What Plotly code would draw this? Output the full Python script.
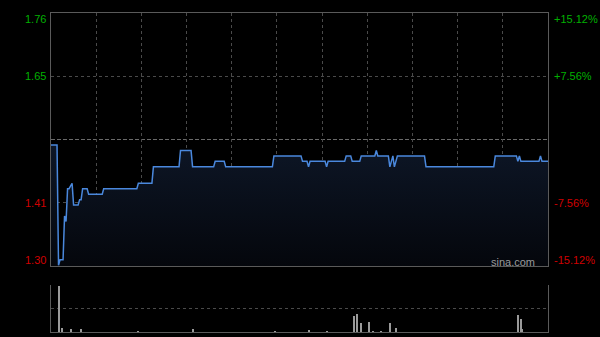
import plotly.graph_objects as go

# ---- data ----
prev_close = 1.53
minutes = [0, 4, 5, 6, 8, 9, 10, 11, 12, 14, 15, 18, 19, 20, 21, 24, 25, 34, 35, 57, 58, 67, 68,
           85, 86, 93, 94, 108, 109, 115, 116, 147, 148, 166, 167, 170, 171, 172, 182, 183, 184,
           195, 196, 199, 200, 205, 206, 215, 216, 217, 224, 225, 227, 228, 230, 248, 249, 294,
           295, 309, 310, 311, 312, 324, 325, 326, 330]
prices = [1.52, 1.52, 1.30, 1.31, 1.31, 1.39, 1.38, 1.44, 1.44, 1.45, 1.41, 1.41, 1.42, 1.42, 1.44,
          1.44, 1.43, 1.43, 1.44, 1.44, 1.45, 1.45, 1.48, 1.48, 1.51, 1.51, 1.48, 1.48, 1.49, 1.49,
          1.48, 1.48, 1.50, 1.50, 1.49, 1.49, 1.48, 1.49, 1.49, 1.48, 1.49, 1.49, 1.50, 1.50, 1.49,
          1.49, 1.50, 1.50, 1.51, 1.50, 1.50, 1.48, 1.50, 1.48, 1.50, 1.50, 1.48, 1.48, 1.50, 1.50,
          1.49, 1.50, 1.49, 1.49, 1.50, 1.49, 1.49]

vol_minutes = [5, 7, 13, 20, 58, 94, 149, 171, 183, 201, 203, 206, 211, 214, 219, 225, 229, 310, 312, 313]
volumes = [46, 4, 3, 3, 1, 3, 1, 2, 1, 15.7, 18.3, 9, 10, 1, 1, 9, 4.3, 16.7, 12.7, 3]

left_labels = ["1.76", "1.65", "1.41", "1.30"]
right_labels = ["+15.12%", "+7.56%", "-7.56%", "-15.12%"]
label_colors = ["#00b000", "#00b000", "#d00000", "#d00000"]

pct = 0.1512
y_lo, y_hi = prev_close * (1 - pct), prev_close * (1 + pct)
grid_vals = [prev_close * (1 + pct / 2), prev_close * (1 - pct / 2)]
# label anchor prices (top/bottom labels nudged inward like the original)
label_pos = [1.7508, grid_vals[0], grid_vals[1], 1.3101]

FONT = "Arial, Liberation Sans, sans-serif"
GRID = "#4a4a4a"
FRAME = "#5a5a5a"

fig = go.Figure()
fig.add_trace(go.Scatter(
    x=minutes, y=prices, mode="lines",
    line=dict(color="#4a88dd", width=1.5),
    fill="tozeroy",
    fillgradient=dict(type="vertical", start=1.29, stop=1.52,
                      colorscale=[[0, "rgb(4,6,11)"], [1, "rgb(13,22,38)"]]),
    xaxis="x", yaxis="y", hoverinfo="skip", showlegend=False))

fig.add_trace(go.Bar(
    x=vol_minutes, y=volumes, width=0.7,
    marker=dict(color="#9a9a9a", line=dict(width=0)),
    xaxis="x2", yaxis="y2", hoverinfo="skip", showlegend=False))

fig.add_shape(type="line", xref="x", yref="y", x0=0, x1=330, y0=prev_close, y1=prev_close,
              line=dict(color="#6a6a6a", width=1, dash="4px,2px"), layer="below")

for txt, pos, col in zip(left_labels, label_pos, label_colors):
    fig.add_annotation(xref="paper", yref="y", x=48 / 600, y=pos, text=txt, showarrow=False,
                       xanchor="right", yanchor="middle",
                       font=dict(family=FONT, size=11, color=col))
for txt, pos, col in zip(right_labels, label_pos, label_colors):
    fig.add_annotation(xref="paper", yref="y", x=552 / 600, y=pos, text=txt, showarrow=False,
                       xanchor="left", yanchor="middle",
                       font=dict(family=FONT, size=11, color=col))

fig.add_annotation(xref="paper", yref="paper", x=537 / 600, y=(337 - 262) / 337, text="sina.com",
                   showarrow=False, xanchor="right", yanchor="middle",
                   font=dict(family=FONT, size=11, color="#9a9a9a"))

xdom = [51 / 600, 548 / 600]
fig.update_layout(
    width=600, height=337,
    margin=dict(l=0, r=0, t=0, b=0),
    paper_bgcolor="black", plot_bgcolor="black",
    bargap=0,
    xaxis=dict(domain=xdom, range=[0, 330], tickvals=list(range(30, 330, 30)),
               showticklabels=False, ticks="", showgrid=True, gridcolor=GRID, griddash="dot",
               gridwidth=1, showline=True, linecolor=FRAME, mirror=True, zeroline=False,
               anchor="y"),
    yaxis=dict(domain=[(337 - 266) / 337, (337 - 13) / 337], range=[y_lo, y_hi],
               tickvals=grid_vals, showticklabels=False, ticks="", showgrid=True,
               gridcolor=GRID, griddash="dot", showline=True, linecolor=FRAME, mirror=True,
               zeroline=False, anchor="x"),
    xaxis2=dict(domain=xdom, range=[0, 330], showticklabels=False, ticks="", showgrid=False,
                showline=True, linecolor=FRAME, mirror=False, zeroline=False, anchor="y2"),
    yaxis2=dict(domain=[(337 - 332) / 337, (337 - 285) / 337], range=[0, 47],
                tickvals=[23.5, 47], showticklabels=False, ticks="", showgrid=True,
                gridcolor=GRID, griddash="dot", showline=True, linecolor=FRAME, mirror=True,
                zeroline=False, anchor="x2"),
)

fig.write_html("out.html")
